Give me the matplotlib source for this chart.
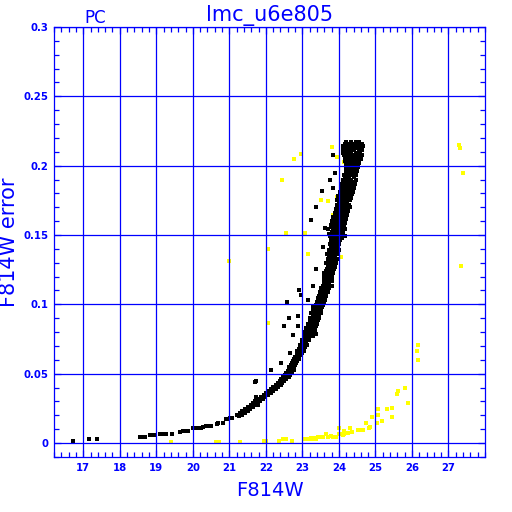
import matplotlib
matplotlib.use("Agg")
import matplotlib.pyplot as plt
from matplotlib.ticker import MultipleLocator

BLUE = '#0000ff'

# faint end tail of the black sequence
tail_mag = [16.72, 17.17, 17.37, 18.55, 18.6, 18.68, 18.82, 18.9, 18.97, 19.1, 19.18, 19.27,
            19.44, 19.64, 19.73, 19.8, 19.86, 20.0, 20.07, 20.15, 20.22, 20.27, 20.37, 20.45,
            20.5, 20.65, 20.7, 20.83, 20.92, 20.97, 21.02, 21.08, 21.2, 21.26, 21.3, 21.36]
tail_err = [0.0014, 0.0027, 0.0027, 0.0045, 0.0045, 0.0045, 0.0058, 0.006, 0.006, 0.0065, 0.0067, 0.0067,
            0.0066, 0.0077, 0.0089, 0.0089, 0.009, 0.0106, 0.0106, 0.0106, 0.011, 0.0113, 0.0123, 0.0123,
            0.0125, 0.014, 0.0142, 0.0146, 0.0172, 0.0176, 0.0178, 0.018, 0.02, 0.0197, 0.0203, 0.0204]

# main band: one error level per row, magnitudes read across the band
band_err = [0.0215, 0.023, 0.0245, 0.026, 0.0275, 0.029, 0.030, 0.0315, 0.033, 0.0345,
            0.036, 0.0375, 0.039, 0.0405, 0.042, 0.0435, 0.045, 0.046, 0.0475, 0.049,
            0.0505, 0.052, 0.053, 0.0545, 0.056, 0.0575, 0.059, 0.0605, 0.062, 0.0635,
            0.065, 0.0665, 0.068, 0.0695, 0.071, 0.0725, 0.074, 0.0755, 0.077, 0.0785,
            0.080, 0.0815, 0.083, 0.0845, 0.086, 0.0875, 0.089, 0.0905, 0.092, 0.0935,
            0.095, 0.0965, 0.098, 0.0995, 0.1015, 0.103, 0.1045, 0.106, 0.1075, 0.109,
            0.1105, 0.112, 0.1135, 0.115, 0.1165, 0.118, 0.1195, 0.121, 0.1225, 0.124,
            0.1255, 0.127, 0.1285, 0.130, 0.1315, 0.133, 0.1345, 0.136, 0.1375, 0.139,
            0.1405, 0.142, 0.1435, 0.145, 0.1465, 0.148, 0.1495, 0.151, 0.1525, 0.154,
            0.1555, 0.157, 0.1585, 0.160, 0.1615, 0.163, 0.1645, 0.166, 0.1675, 0.169,
            0.1705, 0.172, 0.1735, 0.175, 0.1765, 0.178, 0.1795, 0.181, 0.1825, 0.184,
            0.1855, 0.187, 0.1885, 0.190, 0.1915, 0.193, 0.1945, 0.196, 0.1975, 0.199,
            0.2005, 0.202, 0.2035, 0.205, 0.2065, 0.208, 0.2095, 0.211, 0.2125, 0.214,
            0.2155, 0.217]
band_mag = [
    [21.3, 21.38, 21.44], [21.36, 21.42, 21.5], [21.44, 21.5, 21.57], [21.5, 21.58, 21.64],
    [21.6, 21.66, 21.72, 21.78], [21.66, 21.74], [21.7, 21.78, 21.83], [21.8, 21.88, 21.93],
    [21.86, 21.92, 21.97], [21.94, 22.0, 22.05],
    [22.0, 22.05, 22.1, 22.15], [22.08, 22.12, 22.2], [22.15, 22.22, 22.27], [22.2, 22.27, 22.32],
    [22.28, 22.34, 22.38, 22.42], [22.33, 22.4, 22.45], [22.38, 22.44, 22.5], [22.42, 22.5, 22.55],
    [22.48, 22.53, 22.58, 22.62], [22.52, 22.58, 22.65],
    [22.55, 22.62, 22.68, 22.72], [22.6, 22.66, 22.72], [22.7, 22.76], [22.64, 22.7, 22.76],
    [22.68, 22.74, 22.8], [22.72, 22.78, 22.83], [22.75, 22.8, 22.86], [22.78, 22.84, 22.9],
    [22.8, 22.86, 22.92], [22.84, 22.9, 22.96],
    [22.86, 22.92, 22.98], [22.86, 22.9, 22.96, 23.0, 23.05], [22.92, 22.98, 23.04],
    [22.94, 23.0, 23.06], [22.94, 23.02, 23.08, 23.12], [22.98, 23.04, 23.1],
    [22.98, 23.06, 23.12, 23.18], [23.04, 23.1, 23.16],
    [23.06, 23.12, 23.18, 23.24, 23.3], [23.1, 23.16, 23.22, 23.28, 23.36],
    [23.04, 23.12, 23.18, 23.24, 23.3], [23.14, 23.2, 23.26, 23.34],
    [23.1, 23.16, 23.22, 23.28, 23.35], [23.18, 23.24, 23.3, 23.38],
    [23.14, 23.2, 23.26, 23.32, 23.4], [23.2, 23.26, 23.32, 23.4],
    [23.22, 23.28, 23.34, 23.42], [23.2, 23.26, 23.32, 23.38, 23.45],
    [23.28, 23.34, 23.4, 23.46], [23.24, 23.3, 23.36, 23.42, 23.5],
    [23.3, 23.36, 23.44, 23.5], [23.34, 23.4, 23.46, 23.52], [23.3, 23.36, 23.42, 23.48, 23.55],
    [23.38, 23.44, 23.5, 23.56], [23.4, 23.46, 23.52, 23.6], [23.42, 23.48, 23.56, 23.62],
    [23.44, 23.5, 23.58], [23.46, 23.54, 23.6, 23.66], [23.5, 23.56, 23.62],
    [23.48, 23.56, 23.64, 23.7],
    [23.52, 23.6, 23.66], [23.5, 23.58, 23.66, 23.74], [23.56, 23.64, 23.7, 23.8],
    [23.58, 23.66, 23.74], [23.6, 23.68, 23.76, 23.82], [23.62, 23.7, 23.78],
    [23.6, 23.66, 23.74, 23.8], [23.64, 23.72, 23.8], [23.58, 23.68, 23.76, 23.84],
    [23.66, 23.74, 23.82],
    [23.68, 23.76, 23.86], [23.7, 23.78, 23.88], [23.72, 23.8, 23.9], [23.66, 23.74, 23.82, 23.92],
    [23.72, 23.8, 23.88], [23.7, 23.78, 23.86, 23.96], [23.74, 23.82, 23.9],
    [23.68, 23.78, 23.86, 23.98], [23.76, 23.84, 23.92], [23.74, 23.82, 23.9, 24.0],
    [23.78, 23.86, 23.94], [23.8, 23.88, 23.96], [23.76, 23.84, 23.92, 24.0], [23.82, 23.9, 23.98],
    [23.78, 23.86, 23.94, 24.04], [23.8, 23.9, 23.98, 24.08], [23.76, 23.86, 23.96, 24.04, 24.16],
    [23.72, 23.82, 23.92, 24.02, 24.12], [23.8, 23.9, 24.0, 24.1],
    [23.7, 23.84, 23.96, 24.06, 24.18],
    [23.82, 23.92, 24.04, 24.14], [23.78, 23.88, 24.0, 24.12], [23.84, 23.94, 24.06, 24.18],
    [23.8, 23.9, 24.02, 24.14], [23.86, 23.96, 24.08, 24.2], [23.84, 23.94, 24.04, 24.16],
    [23.9, 24.0, 24.1, 24.22], [23.88, 23.98, 24.08, 24.2], [23.94, 24.04, 24.14, 24.26],
    [23.92, 24.02, 24.12, 24.24],
    [23.96, 24.06, 24.18, 24.3], [23.96, 24.06, 24.16, 24.28], [24.0, 24.1, 24.22],
    [23.96, 24.06, 24.16, 24.3], [24.0, 24.1, 24.2, 24.34], [23.98, 24.08, 24.18, 24.28],
    [24.02, 24.12, 24.24, 24.36], [24.04, 24.14, 24.26, 24.38], [24.06, 24.16, 24.28],
    [24.08, 24.2, 24.32, 24.42],
    [24.1, 24.22, 24.34], [24.08, 24.18, 24.3, 24.44], [24.12, 24.24, 24.36],
    [24.12, 24.22, 24.34, 24.46], [24.16, 24.28, 24.4], [24.14, 24.24, 24.36, 24.46],
    [24.2, 24.3, 24.42], [24.2, 24.3, 24.4, 24.5], [24.22, 24.34, 24.46],
    [24.2, 24.3, 24.4, 24.52],
    [24.24, 24.36, 24.48], [24.2, 24.3, 24.42, 24.56], [24.18, 24.28, 24.4, 24.5],
    [24.16, 24.26, 24.38, 24.48, 24.6], [24.2, 24.32, 24.44, 24.56],
    [24.14, 24.24, 24.36, 24.5, 24.62], [24.12, 24.22, 24.34, 24.46, 24.58],
    [24.1, 24.2, 24.3, 24.42, 24.54, 24.64], [24.14, 24.26, 24.38, 24.5, 24.6],
    [24.12, 24.22, 24.34, 24.46, 24.58, 24.66],
    [24.16, 24.28, 24.4, 24.52, 24.62], [24.2, 24.32, 24.46, 24.56],
]

# scattered black points off the band
stray_mag = [21.74, 21.69, 21.72, 22.15, 22.42, 22.65, 22.74, 22.51, 22.89, 22.87, 22.64,
             22.58, 23.15, 22.97, 22.92, 23.28, 23.38, 23.56, 23.63, 23.24, 23.38, 23.54,
             23.85, 23.76, 23.9, 23.83]
stray_err = [0.045, 0.044, 0.033, 0.053, 0.058, 0.065, 0.078, 0.0846, 0.0846, 0.0916, 0.090,
             0.1017, 0.103, 0.107, 0.110, 0.113, 0.1255, 0.1415, 0.155, 0.161, 0.170, 0.182,
             0.184, 0.190, 0.195, 0.208]

# yellow points
yel_mag = [19.41, 20.64, 20.71, 21.28, 21.96, 22.01, 22.35, 22.46, 22.51, 22.56, 22.72,
           23.06, 23.19, 23.24, 23.28, 23.33, 23.38, 23.42, 23.47, 23.52, 23.56, 23.65, 23.69,
           23.79, 23.83, 23.88, 23.92, 24.0, 24.0, 24.06, 24.1, 24.15, 24.15, 24.24, 24.3,
           24.35, 24.51, 24.56, 24.6, 24.65, 24.74, 24.81, 24.85, 24.9, 25.04, 25.06, 25.08,
           25.18, 25.32, 25.45, 25.45, 25.59, 25.63, 25.8, 25.88, 26.15, 26.17, 26.17,
           27.29, 27.32, 27.4, 27.35,
           23.81, 22.96, 23.95, 24.13, 24.47, 24.51, 24.13, 24.49, 24.37, 24.16, 24.4, 24.34,
           23.51, 23.69, 23.94, 23.83, 23.08, 24.04, 23.15, 24.06, 22.76, 22.45, 22.54, 22.07,
           21.0, 22.05]
yel_err = [0.0007, 0.0007, 0.0007, 0.0007, 0.0017, 0.0017, 0.0017, 0.0027, 0.0027, 0.0027, 0.0017,
           0.0027, 0.0027, 0.0038, 0.0027, 0.0038, 0.0027, 0.0041, 0.0041, 0.0041, 0.0041, 0.0065, 0.0041,
           0.0053, 0.0045, 0.0045, 0.0045, 0.0106, 0.0065, 0.0065, 0.006, 0.0065, 0.0086, 0.0074, 0.0106,
           0.0077, 0.0094, 0.0094, 0.0094, 0.0094, 0.0146, 0.0106, 0.0117, 0.019, 0.0146, 0.0245, 0.0204,
           0.0159, 0.0245, 0.0252, 0.019, 0.0353, 0.0375, 0.040, 0.0286, 0.066, 0.0707, 0.060,
           0.215, 0.213, 0.195, 0.128,
           0.2137, 0.2084, 0.2064, 0.2093, 0.209, 0.205, 0.2024, 0.201, 0.195, 0.1896, 0.1877, 0.1776,
           0.1752, 0.1747, 0.1776, 0.1644, 0.1516, 0.154, 0.136, 0.1343, 0.2048, 0.1896, 0.1516, 0.1397,
           0.1314, 0.0867]

x_ticks = [17, 18, 19, 20, 21, 22, 23, 24, 25, 26, 27]
y_ticks = [0, 0.05, 0.1, 0.15, 0.2, 0.25, 0.3]
y_ticklabels = ['0', '0.05', '0.1', '0.15', '0.2', '0.25', '0.3']

fig = plt.figure(figsize=(5.12, 5.12), dpi=100)
ax = fig.add_axes([0.1055, 0.1074, 0.8418, 0.8398])

# flatten the band rows
band_x, band_y = [], []
for e, row in zip(band_err, band_mag):
    for m in row:
        band_x.append(m)
        band_y.append(e)

mk = dict(marker='s', ms=2.3, mew=0, ls='none', zorder=2)
ax.plot(yel_mag, yel_err, color='#ffff00', **mk)
ax.plot(tail_mag, tail_err, color='black', **mk)
ax.plot(band_x, band_y, color='black', **mk)
ax.plot(stray_mag, stray_err, color='black', **mk)

ax.set_xlim(16.2, 28.0)
ax.set_ylim(-0.0101, 0.3)
ax.set_xticks(x_ticks)
ax.set_yticks(y_ticks)
ax.set_yticklabels(y_ticklabels)
ax.xaxis.set_minor_locator(MultipleLocator(0.2))
ax.yaxis.set_minor_locator(MultipleLocator(0.01))

ax.set_axisbelow(False)
ax.grid(True, which='major', color=BLUE, lw=0.9)
for s in ax.spines.values():
    s.set_color(BLUE)
    s.set_linewidth(0.9)
ax.tick_params(which='both', direction='in', top=True, right=True, color=BLUE, width=0.9)
ax.tick_params(which='major', length=5, pad=4, labelcolor=BLUE)
ax.tick_params(which='minor', length=3.6)
for lab in ax.get_xticklabels() + ax.get_yticklabels():
    lab.set_fontsize(7.3)
    lab.set_fontweight('bold')

fig.text(270 / 512, 1 - 490 / 512, 'F814W', color=BLUE, fontsize=14, ha='center', va='center')
fig.text(9 / 512, 1 - 242 / 512, 'F814W error', color=BLUE, fontsize=15, rotation=90,
         ha='center', va='center')
fig.text(270 / 512, 1 - 16 / 512, 'lmc_u6e805', color=BLUE, fontsize=15, ha='center', va='center')
fig.text(95 / 512, 1 - 18 / 512, 'PC', color=BLUE, fontsize=12, ha='center', va='center')

fig.savefig('out.png', dpi=100, facecolor='white')
